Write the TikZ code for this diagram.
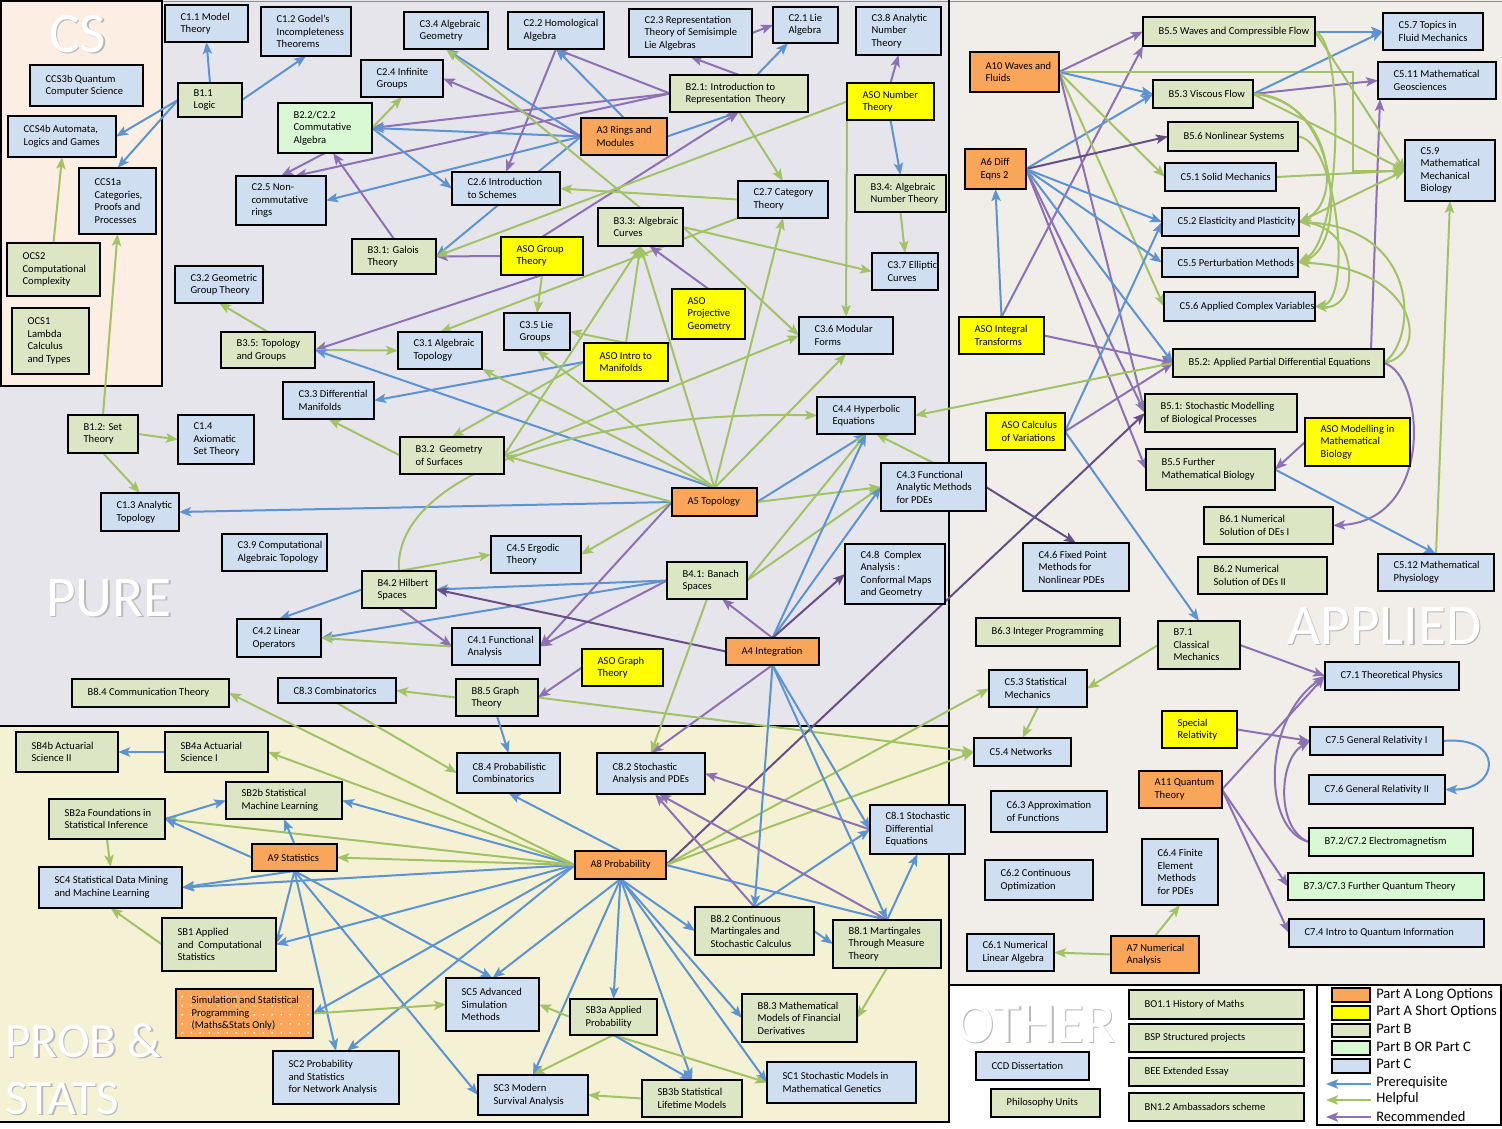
\documentclass[tikz,border=0pt]{standalone}
\usepackage{fontspec}
\setmainfont{Carlito}
\usetikzlibrary{arrows.meta,calc,patterns.meta}
\definecolor{cpa}{HTML}{F9A55A}
\definecolor{cpas}{HTML}{FFFF00}
\definecolor{cpb}{HTML}{DCE6C4}
\definecolor{cpbc}{HTML}{D9F8D4}
\definecolor{cpc}{HTML}{CFDFF1}
\definecolor{lpre}{HTML}{5B93D3}
\definecolor{lhelp}{HTML}{A2C266}
\definecolor{lrec}{HTML}{8C72B4}
\definecolor{lrecd}{HTML}{654F86}
\definecolor{bgpure}{HTML}{E7E5EC}
\definecolor{bgapp}{HTML}{F1EDE9}
\definecolor{bgprob}{HTML}{F5F1D5}
\definecolor{bgcs}{HTML}{FCEEE2}
\pgfdeclarelayer{bg}
\pgfdeclarelayer{edges}
\pgfsetlayers{bg,edges,main}
\tikzset{
 bx/.style n args={4}{draw=black,line width=1.8pt,anchor=north west,inner sep=0pt,outer sep=0pt,
   at={(#1,#2)},minimum width={(#3-#1)*0.75pt},minimum height={(#4-#2)*0.75pt}},
 lbl/.style={anchor=west,align=left,inner sep=0pt,xshift=11.5pt,font=\fontsize{7.9}{9.4}\selectfont},
 pa/.style={fill=cpa}, pas/.style={fill=cpas}, pb/.style={fill=cpb},
 pbc/.style={fill=cpbc}, pc/.style={fill=cpc},
 tip/.style={-{Stealth[length=9pt,width=7pt,inset=2pt]}},
 pre/.style={draw=lpre,line width=1.5pt,tip},
 hlp/.style={draw=lhelp,line width=1.5pt,tip},
 rec/.style={draw=lrec,line width=1.5pt,tip},
 recd/.style={draw=lrecd,line width=1.5pt,tip},
 big/.style={text=white,anchor=base west,inner sep=0pt},
 bigsh/.style={text=black!28,anchor=base west,inner sep=0pt},
 leg/.style={anchor=west,inner sep=0pt,font=\fontsize{10.9}{12}\selectfont},
}
\newcommand\mybox[7]{\node[#1,bx={#3}{#4}{#5}{#6},label={[lbl]west:{#7}}] (#2) {};}
\newcommand\bigtxt[5]{%
 \node[bigsh,font=\fontsize{#4}{#4}\selectfont] (#1sh) at (#2+1.5,#3+1.5) {#5};
 \node[big,font=\fontsize{#4}{#4}\selectfont] (#1) at (#2,#3) {#5};}
\begin{document}
\begin{tikzpicture}[x=0.75pt,y=-0.75pt]
\useasboundingbox (0,0) rectangle (1502,1128);
\begin{pgfonlayer}{bg}
\fill[white] (0,0) rectangle (1502,1128);
\fill[bgpure] (0,0) rectangle (949,726);
\fill[bgapp] (949,0) rectangle (1502,985);
\fill[bgprob] (0,726) rectangle (949,1122);
\fill[bgcs] (0,0) rectangle (162,386);
\draw[black!45,line width=1pt] (162,1.5) -- (1502,1.5);
\draw[line width=1.8pt] (1,1) rectangle (162,386);
\draw[line width=1.8pt] (0,726) -- (949,726);
\draw[line width=1.8pt] (949,0) -- (949,1122) -- (0,1122);
\draw[line width=1.8pt] (949,985) -- (1502,985);
\draw[line width=1.5pt] (1317,985) rectangle (1501,1125);
\bigtxt{tcs}{49}{52}{43}{CS}
\bigtxt{tpure}{46}{616}{43}{PURE}
\bigtxt{tapp}{1287}{644}{43}{APPLIED}
\bigtxt{toth}{956}{1042}{43}{OTHER}
\bigtxt{tprob}{5}{1057}{37}{PROB \&}
\bigtxt{tstat}{5}{1114}{37}{STATS}
\end{pgfonlayer}

% ===== CS =====
\mybox{pc}{cs3b}{30}{65}{143}{106}{CCS3b Quantum\\Computer Science}
\mybox{pc}{cs4b}{8}{116}{116}{157}{CCS4b Automata,\\Logics and Games}
\mybox{pc}{cs1a}{79}{168}{156}{234}{CCS1a\\Categories,\\Proofs and\\Processes}
\mybox{pb}{ocs2}{7}{243}{100}{296}{OCS2\\Computational\\Complexity}
\mybox{pb}{ocs1}{12}{308}{89}{374}{OCS1\\Lambda\\Calculus\\and Types}

% ===== PURE =====
\mybox{pc}{c11}{165}{5}{248}{42}{C1.1 Model\\Theory}
\mybox{pc}{c12}{261}{7}{351}{56}{C1.2 Godel's\\Incompleteness\\Theorems}
\mybox{pc}{c34}{404}{12}{488}{49}{C3.4 Algebraic\\Geometry}
\mybox{pc}{c22}{508}{12}{604}{49}{C2.2 Homological\\Algebra}
\mybox{pc}{c23}{629}{9}{752}{57}{C2.3 Representation\\Theory of Semisimple\\Lie Algebras}
\mybox{pc}{c21}{773}{7}{838}{43}{C2.1 Lie\\Algebra}
\mybox{pc}{c38}{856}{7}{941}{55}{C3.8 Analytic\\Number\\Theory}
\mybox{pc}{c24}{361}{60}{443}{97}{C2.4 Infinite\\Groups}
\mybox{pb}{b11}{178}{83}{242}{117}{B1.1\\Logic}
\mybox{pb}{b21}{670}{75}{808}{112}{B2.1: Introduction to\\Representation~ Theory}
\mybox{pas}{asont}{847}{83}{934}{120}{ASO Number\\Theory}
\mybox{pbc}{b22}{278}{103}{372}{153}{B2.2/C2.2\\Commutative\\Algebra}
\mybox{pa}{a3}{581}{118}{667}{155}{A3 Rings and\\Modules}
\mybox{pc}{c25}{236}{176}{326}{225}{C2.5 Non-\\commutative\\rings}
\mybox{pc}{c26}{452}{172}{560}{205}{C2.6 Introduction\\to Schemes}
\mybox{pc}{c27}{738}{181}{828}{218}{C2.7 Category\\Theory}
\mybox{pb}{b34}{855}{175}{946}{212}{B3.4: Algebraic\\Number Theory}
\mybox{pb}{b33}{598}{208}{683}{246}{B3.3: Algebraic\\Curves}
\mybox{pb}{b31}{352}{239}{436}{274}{B3.1: Galois\\Theory}
\mybox{pas}{asogt}{501}{237}{583}{275}{ASO Group\\Theory}
\mybox{pc}{c37}{872}{253}{938}{290}{C3.7 Elliptic\\Curves}
\mybox{pc}{c32}{175}{266}{263}{303}{C3.2 Geometric\\Group Theory}
\mybox{pas}{asopg}{672}{289}{745}{339}{ASO\\Projective\\Geometry}
\mybox{pc}{c35}{504}{313}{570}{350}{C3.5 Lie\\Groups}
\mybox{pb}{b35}{221}{332}{315}{368}{B3.5: Topology\\and Groups}
\mybox{pc}{c31}{398}{332}{482}{369}{C3.1 Algebraic\\Topology}
\mybox{pas}{asoim}{584}{343}{668}{381}{ASO Intro to\\Manifolds}
\mybox{pc}{c36}{799}{317}{893}{354}{C3.6 Modular\\Forms}
\mybox{pc}{c33}{283}{382}{374}{419}{C3.3 Differential\\Manifolds}
\mybox{pc}{c44}{817}{397}{915}{434}{C4.4 Hyperbolic\\Equations}
\mybox{pb}{b12}{68}{415}{138}{453}{B1.2: Set\\Theory}
\mybox{pc}{c14}{178}{415}{254}{464}{C1.4\\Axiomatic\\Set Theory}
\mybox{pb}{b32}{400}{437}{504}{474}{B3.2~ Geometry\\of Surfaces}
\mybox{pc}{c43}{881}{463}{986}{511}{C4.3 Functional\\Analytic Methods\\for PDEs}
\mybox{pa}{a5}{672}{488}{757}{516}{A5 Topology}
\mybox{pc}{c13}{101}{493}{179}{531}{C1.3 Analytic\\Topology}
\mybox{pc}{c39}{222}{534}{327}{571}{C3.9 Computational\\Algebraic Topology}
\mybox{pc}{c45}{491}{536}{581}{573}{C4.5 Ergodic\\Theory}
\mybox{pc}{c48}{845}{544}{945}{604}{C4.8~ Complex\\Analysis :\\Conformal Maps\\and Geometry}
\mybox{pb}{b42}{362}{571}{436}{608}{B4.2 Hilbert\\Spaces}
\mybox{pb}{b41}{667}{562}{747}{599}{B4.1: Banach\\Spaces}
\mybox{pc}{c42}{237}{619}{321}{657}{C4.2 Linear\\Operators}
\mybox{pc}{c41}{452}{628}{540}{665}{C4.1 Functional\\Analysis}
\mybox{pa}{a4}{726}{638}{819}{665}{A4 Integration}
\mybox{pas}{asogr}{582}{649}{663}{686}{ASO Graph\\Theory}
\mybox{pb}{b84}{72}{679}{229}{707}{B8.4 Communication Theory}
\mybox{pc}{c83}{278}{678}{396}{703}{C8.3 Combinatorics}
\mybox{pb}{b85}{456}{679}{538}{716}{B8.5 Graph\\Theory}

% ===== APPLIED =====
\mybox{pb}{b55}{1143}{17}{1315}{46}{B5.5 Waves and Compressible Flow}
\mybox{pc}{c57}{1383}{13}{1483}{50}{C5.7 Topics in\\Fluid Mechanics}
\mybox{pa}{a10}{970}{52}{1059}{92}{A10 Waves and\\Fluids}
\mybox{pc}{c511}{1378}{62}{1496}{99}{C5.11 Mathematical\\Geosciences}
\mybox{pb}{b53}{1153}{80}{1253}{108}{B5.3 Viscous Flow}
\mybox{pb}{b56}{1168}{122}{1298}{151}{B5.6 Nonlinear Systems}
\mybox{pa}{a6}{965}{149}{1026}{189}{A6 Diff\\Eqns 2}
\mybox{pc}{c59}{1405}{140}{1495}{201}{C5.9\\Mathematical\\Mechanical\\Biology}
\mybox{pc}{c51}{1165}{163}{1276}{191}{C5.1 Solid Mechanics}
\mybox{pc}{c52}{1162}{208}{1299}{236}{C5.2 Elasticity and Plasticity}
\mybox{pc}{c55}{1162}{248}{1298}{277}{C5.5 Perturbation Methods}
\mybox{pc}{c56}{1164}{292}{1315}{321}{C5.6 Applied Complex Variables}
\mybox{pas}{asoit}{959}{317}{1044}{354}{ASO Integral\\Transforms}
\mybox{pb}{b52}{1173}{349}{1384}{377}{B5.2: Applied Partial Differential Equations}
\mybox{pb}{b51}{1145}{394}{1297}{432}{B5.1: Stochastic Modelling\\of Biological Processes}
\mybox{pas}{asocv}{986}{413}{1065}{450}{ASO Calculus\\of Variations}
\mybox{pas}{asomm}{1305}{418}{1410}{466}{ASO Modelling in\\Mathematical\\Biology}
\mybox{pb}{b55b}{1146}{449}{1275}{490}{B5.5 Further\\Mathematical Biology}
\mybox{pb}{b61}{1204}{507}{1333}{544}{B6.1 Numerical\\Solution of DEs I}
\mybox{pc}{c46}{1023}{543}{1129}{591}{C4.6 Fixed Point\\Methods for\\Nonlinear PDEs}
\mybox{pb}{b62}{1198}{557}{1327}{594}{B6.2 Numerical\\Solution of DEs II}
\mybox{pc}{c512}{1378}{554}{1494}{591}{C5.12 Mathematical\\Physiology}
\mybox{pb}{b63}{976}{618}{1120}{646}{B6.3 Integer Programming}
\mybox{pb}{b71}{1158}{621}{1240}{669}{B7.1\\Classical\\Mechanics}
\mybox{pc}{c71}{1325}{662}{1459}{690}{C7.1 Theoretical Physics}
\mybox{pc}{c53}{989}{670}{1087}{707}{C5.3 Statistical\\Mechanics}
\mybox{pas}{sr}{1162}{711}{1237}{748}{Special\\Relativity}
\mybox{pc}{c75}{1310}{727}{1443}{755}{C7.5 General Relativity I}
\mybox{pc}{c54}{974}{738}{1071}{766}{C5.4 Networks}
\mybox{pa}{a11}{1139}{771}{1222}{808}{A11 Quantum\\Theory}
\mybox{pc}{c76}{1309}{775}{1445}{804}{C7.6 General Relativity II}
\mybox{pc}{c63}{991}{791}{1107}{832}{C6.3 Approximation\\of Functions}
\mybox{pbc}{b72}{1309}{828}{1473}{856}{B7.2/C7.2 Electromagnetism}
\mybox{pc}{c64}{1142}{839}{1218}{905}{C6.4 Finite\\Element\\Methods\\for PDEs}
\mybox{pc}{c62}{985}{860}{1093}{900}{C6.2 Continuous\\Optimization}
\mybox{pbc}{b73}{1288}{873}{1484}{900}{B7.3/C7.3 Further Quantum Theory}
\mybox{pc}{c74}{1289}{919}{1484}{947}{C7.4 Intro to Quantum Information}
\mybox{pc}{c61}{967}{934}{1054}{971}{C6.1 Numerical\\Linear Algebra}
\mybox{pa}{a7}{1111}{936}{1199}{973}{A7 Numerical\\Analysis}

% ===== OTHER =====
\mybox{pb}{bo1}{1129}{990}{1304}{1019}{BO1.1 History of Maths}
\mybox{pb}{bsp}{1129}{1024}{1304}{1052}{BSP Structured projects}
\mybox{pb}{bee}{1129}{1058}{1304}{1086}{BEE Extended Essay}
\mybox{pb}{bn1}{1129}{1093}{1304}{1121}{BN1.2 Ambassadors scheme}
\mybox{pc}{ccd}{976}{1052}{1089}{1080}{CCD Dissertation}
\mybox{pb}{phil}{991}{1089}{1100}{1117}{Philosophy Units}

% ===== PROB & STATS =====
\mybox{pb}{sb4b}{16}{732}{118}{772}{SB4b Actuarial\\Science II}
\mybox{pb}{sb4a}{165}{732}{268}{772}{SB4a Actuarial\\Science I}
\mybox{pc}{c84}{457}{753}{560}{793}{C8.4 Probabilistic\\Combinatorics}
\mybox{pc}{c82}{597}{753}{705}{794}{C8.2 Stochastic\\Analysis and PDEs}
\mybox{pb}{sb2b}{226}{782}{342}{819}{SB2b Statistical\\Machine Learning}
\mybox{pb}{sb2a}{49}{799}{165}{839}{SB2a Foundations in\\Statistical Inference}
\mybox{pc}{c81}{870}{805}{965}{854}{C8.1 Stochastic\\Differential\\Equations}
\mybox{pa}{a9}{252}{844}{337}{871}{A9 Statistics}
\mybox{pa}{a8}{575}{851}{666}{879}{A8 Probability}
\mybox{pc}{sc4}{39}{867}{182}{908}{SC4 Statistical Data Mining\\and Machine Learning}
\mybox{pb}{b82}{695}{907}{814}{955}{B8.2 Continuous\\Martingales and\\Stochastic Calculus}
\mybox{pb}{sb1}{162}{918}{276}{971}{SB1 Applied\\ and~ Computational\\Statistics}
\mybox{pb}{b81}{833}{920}{941}{968}{B8.1 Martingales\\Through Measure\\Theory}
\mybox{pc}{sc5}{446}{978}{539}{1031}{SC5 Advanced\\Simulation\\Methods}
\node[pa,bx={176}{989}{313}{1038},postaction={pattern={Dots[distance=6.5pt,radius=0.75pt]},pattern color=white},
  label={[lbl]west:{Simulation and Statistical\\Programming\\(Maths\&Stats Only)}}] (sim) {};
\mybox{pb}{b83}{742}{994}{857}{1042}{B8.3 Mathematical\\Models of Financial\\Derivatives}
\mybox{pb}{sb3a}{570}{999}{657}{1035}{SB3a Applied\\Probability}
\mybox{pc}{sc2}{273}{1051}{399}{1104}{SC2 Probability\\and Statistics\\for Network Analysis}
\mybox{pc}{sc1}{767}{1062}{916}{1103}{SC1 Stochastic Models in\\Mathematical Genetics}
\mybox{pc}{sc3}{478}{1075}{588}{1115}{SC3 Modern\\Survival Analysis}
\mybox{pb}{sb3b}{642}{1080}{742}{1117}{SB3b Statistical\\Lifetime Models}

% ===== LEGEND =====
\node[pa,bx={1332}{988}{1370}{1002}] (lga) {};
\node[pas,bx={1332}{1006}{1370}{1020}] (lgb) {};
\node[pb,bx={1332}{1024}{1370}{1037}] (lgc) {};
\node[pbc,bx={1332}{1041}{1370}{1055}] (lgd) {};
\node[pc,bx={1332}{1059}{1370}{1073}] (lge) {};
\node[leg] (lta) at (1376,995) {Part A Long Options};
\node[leg] (ltb) at (1376,1012) {Part A Short Options};
\node[leg] (ltc) at (1376,1029) {Part B};
\node[leg] (ltd) at (1376,1047) {Part B OR Part C};
\node[leg] (lte) at (1376,1064) {Part C};
\node[leg] (ltf) at (1376,1083) {Prerequisite};
\node[leg] (ltg) at (1376,1099) {Helpful};
\node[leg] (lth) at (1376,1116) {Recommended};
\coordinate (lg1a) at (1326,1084); \coordinate (lg1b) at (1371,1084);
\coordinate (lg2a) at (1326,1100); \coordinate (lg2b) at (1371,1100);
\coordinate (lg3a) at (1326,1117); \coordinate (lg3b) at (1371,1117);

\begin{pgfonlayer}{edges}
\draw[pre] (lg1b) -- (lg1a);
\draw[hlp] (lg2b) -- (lg2a);
\draw[rec] (lg3b) -- (lg3a);

% CS
\draw[pre] (b11.west) -- (cs4b.east);
\draw[pre] (b11.west) -- (cs1a.north);
\draw[pre] (b11.north) -- (c11.south);
\draw[pre] (b11.east) -- (c12.south);
\draw[hlp] (ocs2.north) -- (cs4b.south);
\draw[hlp] (b12.north) -- (cs1a.south);
\draw[hlp] (b12.east) -- (c14.west);
\draw[hlp] (b12.south) -- (c13.north);

% PURE
\draw[pre] (b21) -- (c21);
\draw[rec] (b21.north) -- (c23.south);
\draw[rec] (c23.east) -- (c21.west);
\draw[rec] (b21.west) -- (c22.south);
\draw[rec] (b21.west) -- (b22.east);
\draw[rec] (b21.west) -- ($(c25.north)+(14,0)$);
\draw[pre] (a3.west) -- (b22.east);
\draw[pre] (a3.north) -- (c22.south);
\draw[pre] (a3.west) -- (c34.south);
\draw[pre] (a3.west) -- (c25.east);
\draw[pre] (a3.west) -- (b31.east);
\draw[pre] (a3.east) -- (b21.south);
\draw[rec] (a3.west) -- (c24.east);
\draw[hlp] (b22.east) -- (c24.south);
\draw[pre] (b22.east) -- (c26.west);
\draw[rec] (c22.south) -- (c26.north);
\draw[rec] (b22.south) -- (c25.north);
\draw[rec] (b31.north) -- ($(b22.south)+(8,0)$);
\draw[rec] (asogt.north) -- (b21.south);
\draw[rec] (asogt.west) -- (b31.east);
\draw[rec] (asogt.south) -- (b35.east);
\draw[hlp] (asogt.south) -- (c35.north);
\draw[hlp] (asont.west) -- (b31.east);
\draw[hlp] (asont.south west) -- (c36.north);
\draw[rec] (asont.north) -- (c38.south);
\draw[pre] (asont.south) -- (b34.north);
\draw[hlp] (b34.south) -- (c37.north);
\draw[hlp] (b21.south) -- (c27.north);
\draw[hlp] (c27.west) -- (c26.east);
\draw[hlp] (c27.south west) -- (c31.north);
\draw[hlp] (b33.north) -- (c34.south);
\draw[hlp] (b33.east) -- (c37.west);
\draw[hlp] (b33.east) -- (c36.west);
\draw[rec] (asopg.north) -- ($(b33.south)+(9,0)$);
\draw[hlp] (asoim.north) -- (b33.south);
\draw[hlp] (asoim.north) -- (c35.east);
\draw[hlp] (asoim.west) -- (b32.north);
\draw[pre] (asoim.west) -- (c33.east);
\draw[hlp] (b35.north) -- (c32.south);
\draw[hlp] (b35.east) -- (c31.west);
\draw[hlp] (b32.west) -- (c33.south);
\draw[hlp] (b32.east) -- (b33.south);
\draw[hlp] (b32.east) -- (c36.west);
\draw[pre] (a5.north) -- (b35.east);
\draw[pre] (a5.west) -- (c13.east);
\draw[pre] (a5.east) -- (c44.south);
\draw[hlp] (a5.north) -- (c31.south east);
\draw[hlp] (a5.north) -- (c35.south);
\draw[hlp] (a5.north) -- (b33.south);
\draw[hlp] (a5.north) -- (c27.south);
\draw[hlp] (a5.north) -- (c36.south);
\draw[hlp] (a5.west) -- (b32.east);
\draw[hlp] (a5.west) -- (c45.east);
\draw[hlp] (a5.east) -- (c43.west);
\draw[rec] (a5.west) -- (c41.east);
\draw[hlp] (b42.north) -- (c45.west);
\draw[hlp] (b42.north) .. controls (392,470) and (600,410) .. (c44.west);
\draw[pre] (b41.west) -- (b42.east);
\draw[pre] (b41.west) -- (c42.east);
\draw[pre] (b42.west) -- (c42.north);
\draw[rec] (b42.south) -- (c41.west);
\draw[rec] (b41.west) -- (c41.east);
\draw[hlp] (c41.west) -- (c42.east);
\draw[hlp] (b41.east) -- (c44.south);
\draw[hlp] (b41.east) -- (c43.west);
\draw[hlp] (c43.north) -- ($(c44.south)+(10,0)$);
\draw[pre] (a4.north) -- (c44.south);
\draw[pre] (a4.north) -- (c43.west);
\draw[recd] (a4.north) -- (c48.west);
\draw[recd] (a4.west) -- (b42.east);
\draw[rec] (a4.north) -- ($(b41.south)+(15,0)$);
\draw[rec] (a4.south) -- (c82.north);
\draw[hlp] (b41.south) -- (c82.north);
\draw[rec] (asogr.west) -- (b85.east);
\draw[hlp] (b85.west) -- (c83.east);
\draw[pre] (b85.south) -- (c84.north);
\draw[hlp] (b85.east) -- (c54.west);
\draw[hlp] (c83.south) -- (c84.west);
\draw[hlp] (a8.west) -- (b84.east);

% APPLIED
\draw[rec] (a10.east) -- (b55.west);
\draw[rec] (asoit.north) -- (b55.south west);
\draw[hlp] (a10.east) -| (1353,170.5) -- (c59.west);
\draw[pre] (a10.east) -- (b53.west);
\draw[pre] (a6.east) -- (b53.west);
\draw[hlp] (a10.east) -- (c51.west);
\draw[hlp] (a10.east) -- (c56.west);
\draw[rec] (a10.east) -- (b51.west);
\draw[rec] (a6.east) -- (b51.west);
\draw[rec] (a6.east) -- (b55b.west);
\draw[recd] (a6.east) -- (b56.west);
\draw[pre] (a6.east) -- (c52.west);
\draw[pre] (a6.east) -- (c55.west);
\draw[pre] (a6.east) -- (b52.west);
\draw[pre] (asoit.north) -- (a6.south);
\draw[rec] (asoit.east) -- (b52.west);
\draw[pre] (asocv.east) -- (c52.west);
\draw[pre] (asocv.east) -- (b71.north);
\draw[rec] (asocv.east) -- (b52.west);
\draw[pre] (b53.east) -- (c57.west);
\draw[pre] (b55.east) -- (c57.west);
\draw[rec] (b53.east) -- (c511.west);
\draw[rec] ($(b52.north east)+(-13,0)$) -- ($(c511.south west)+(2,0)$);
\draw[hlp] (b53.east) -- (c59.west);
\draw[hlp] (b55.east) -- (c59.west);
\draw[hlp] (c51.east) -- (c59.west);
\draw[hlp] (c52.east) -- (c59.west);
\draw[hlp] (b53.east) .. controls (1330,100) and (1345,200) .. (c52.east);
\draw[hlp] (b53.east) .. controls (1338,95) and (1350,245) .. (c55.east);
\draw[hlp] (b55.east) .. controls (1345,40) and (1342,240) .. (c55.east);
\draw[hlp] (b56.east) .. controls (1338,140) and (1352,300) .. (c56.east);
\draw[hlp] (c52.east) .. controls (1360,222) and (1362,310) .. (c56.east);
\draw[hlp] (b52.east) .. controls (1430,355) and (1420,268) .. (c55.east);
\draw[hlp] (b52.east) .. controls (1418,338) and (1420,228) .. (c52.east);
\draw[hlp] (b52.west) -- (c44.east);
\draw[rec] (b52.east) .. controls (1425,375) and (1435,520) .. (b61.east);
\draw[rec] (asomm.west) -- (b55b.east);
\draw[pre] (b55b.east) -- (c512.north);
\draw[hlp] (c512.north) -- (c59.south);
\draw[recd] (a8.east) -- (b51.west);
\draw[recd] (c43.east) -- (c46.north);
\draw[rec] (b71.east) -- (c71.west);
\draw[hlp] (b71.west) -- (c53.east);
\draw[hlp] (c53.south) -- (c54.north);
\draw[rec] (sr.east) -- (c75.west);
\draw[pre] (c75.east) .. controls (1505,735) and (1500,790) .. (c76.east);
\draw[rec] (a11.east) -- (c71.west);
\draw[rec] (a11.east) -- (b73.west);
\draw[rec] (a11.east) -- (c74.west);
\draw[rec] (b72.west) .. controls (1262,830) and (1262,720) .. (c71.west);
\draw[rec] (b72.west) .. controls (1276,830) and (1278,760) .. (c75.west);
\draw[hlp] (a7.west) -- (c61.east);
\draw[hlp] (a7.north) -- (c64.south);

% PROB & STATS
\draw[pre] (a8.east) -- (b81.north);
\draw[pre] (a8.south) -- (b82.west);
\draw[pre] (a8.south) -- (sc5.north);
\draw[pre] (a8.south) -- (sb3a.north);
\draw[pre] (a8.west) -- ($(sc2.north)+(11,0)$);
\draw[pre] (a8.south) -- (sc3.north);
\draw[pre] (a8.south) -- (sb3b.north);
\draw[pre] (a8.south) -- (sc1.west);
\draw[pre] (a8.north) -- (c84.south);
\draw[pre] (a8.west) -- (sb2b.east);
\draw[pre] (a8.west) -- (sc4.east);
\draw[pre] (a8.west) -- (sb1.east);
\draw[pre] (a8.west) -- (sim.east);
\draw[pre] (a8.south) -- (b83.west);
\draw[hlp] (a8.west) -- (a9.east);
\draw[hlp] (a8.west) -- (sb2a.east);
\draw[hlp] (a8.west) -- (sb4a.east);
\draw[hlp] (a8.east) -- (c53.west);
\draw[hlp] (a8.east) -- (c54.west);
\draw[pre] (a4.south) -- (b81.north);
\draw[pre] (a4.south) -- (c81.west);
\draw[pre] (a4.south) -- (b82.north);
\draw[pre] (a9.west) -- (sb2a.east);
\draw[pre] (a9.north) -- (sb2b.south);
\draw[pre] (a9.south) -- (sc4.east);
\draw[pre] (a9.south) -- (sb1.east);
\draw[pre] (a9.south) -- (sc5.north);
\draw[pre] (a9.south) -- (sc3.west);
\draw[pre] (a9.south) -- (sc2.north);
\draw[pre] (sb4a.west) -- (sb4b.east);
\draw[pre] (sb2a.east) -- (sb2b.west);
\draw[hlp] (sb2a.south) -- (sc4.north);
\draw[hlp] (sb1.west) -- (sc4.south);
\draw[hlp] (sim.east) -- (sc5.west);
\draw[pre] (b82.north) -- (c81.west);
\draw[pre] (b81.north) -- (c81.south);
\draw[pre] (b82.east) -- (b81.west);
\draw[hlp] (b81.south) -- (b83.east);
\draw[rec] (c81.west) -- (c82.east);
\draw[rec] (b81.north) -- ($(c82.south)+(8,0)$);
\draw[rec] (b82.north) -- ($(c82.south)+(4,0)$);
\draw[hlp] (sb3a.west) -- (sc5.east);
\draw[hlp] (sb3a.south) -- (sc3.north);
\draw[hlp] (sb3a.south) -- (sc1.west);
\draw[pre] (sb3a.south) -- (sb3b.north);
\draw[hlp] (sb3b.west) -- (sc3.east);
\end{pgfonlayer}
\end{tikzpicture}
\end{document}
